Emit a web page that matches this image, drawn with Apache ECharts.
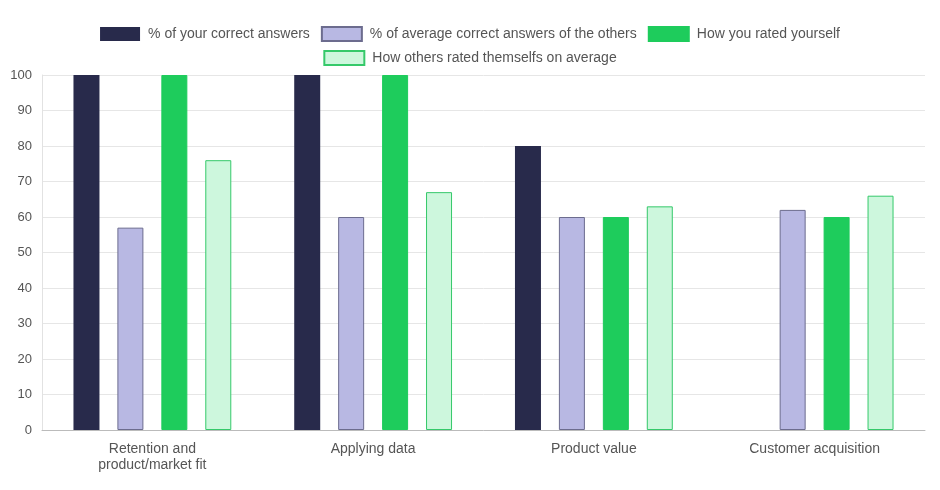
<!DOCTYPE html>
<html>
<head>
<meta charset="utf-8">
<script src="https://cdn.jsdelivr.net/npm/echarts@6/dist/echarts.min.js"></script>
<style>html,body{margin:0;padding:0;background:#fff;}#c{width:940px;height:490px;}</style>
</head>
<body>
<div id="c"></div>
<script>
const categories = ['Retention and\nproduct/market fit', 'Applying data', 'Product value', 'Customer acquisition'];
const seriesNames = ['% of your correct answers', '% of average correct answers of the others', 'How you rated yourself', 'How others rated themselfs on average'];
const yourCorrect = [100, 100, 80, null];
const othersCorrect = [57, 60, 60, 62];
const youRated = [100, 100, 60, 60];
const othersRated = [76, 67, 63, 66];
const yTicks = [0, 10, 20, 30, 40, 50, 60, 70, 80, 90, 100];

const font = 'Liberation Sans, Arial, Helvetica, sans-serif';
const chart = echarts.init(document.getElementById('c'), null, {renderer: 'canvas'});
const styles = [
  {color: '#282a4b', borderWidth: 0},
  {color: '#b8b8e3', borderColor: '#6c6c8e', borderWidth: 1},
  {color: '#1ecc5c', borderColor: '#1ecc5c', borderWidth: 1},
  {color: '#cdf7dd', borderColor: '#35c96a', borderWidth: 1}
];
const data = [yourCorrect, othersCorrect, youRated, othersRated];
const legendBase = {
  left: 'center', icon: 'rect',
  itemWidth: 40, itemHeight: 14, itemGap: 11,
  textStyle: {color: '#555', fontSize: 14, fontFamily: font, padding: [0, 0, 0, 3]}
};
chart.setOption({
  animation: false,
  textStyle: {fontFamily: font},
  legend: [
    Object.assign({}, legendBase, {top: 21, data: seriesNames.slice(0, 3)}),
    Object.assign({}, legendBase, {top: 45, data: seriesNames.slice(3)})
  ],
  grid: {left: 42, right: 15, top: 75, bottom: 60, containLabel: false},
  xAxis: {
    type: 'category', data: categories,
    axisLine: {lineStyle: {color: '#bbb'}},
    axisTick: {show: false},
    axisLabel: {color: '#555', fontSize: 14, margin: 11, lineHeight: 16, fontFamily: font, interval: 0}
  },
  yAxis: {
    type: 'value', min: yTicks[0], max: yTicks[yTicks.length - 1], interval: 10,
    axisLine: {show: true, lineStyle: {color: '#e2e2e2'}},
    axisTick: {show: false},
    axisLabel: {color: '#555', fontSize: 13, margin: 10, fontFamily: font},
    splitLine: {lineStyle: {color: '#e6e6e6'}}
  },
  series: seriesNames.map((n, i) => ({
    name: n, type: 'bar', data: data[i],
    barWidth: 26, barGap: '69%',
    itemStyle: styles[i]
  }))
});
</script>
</body>
</html>
